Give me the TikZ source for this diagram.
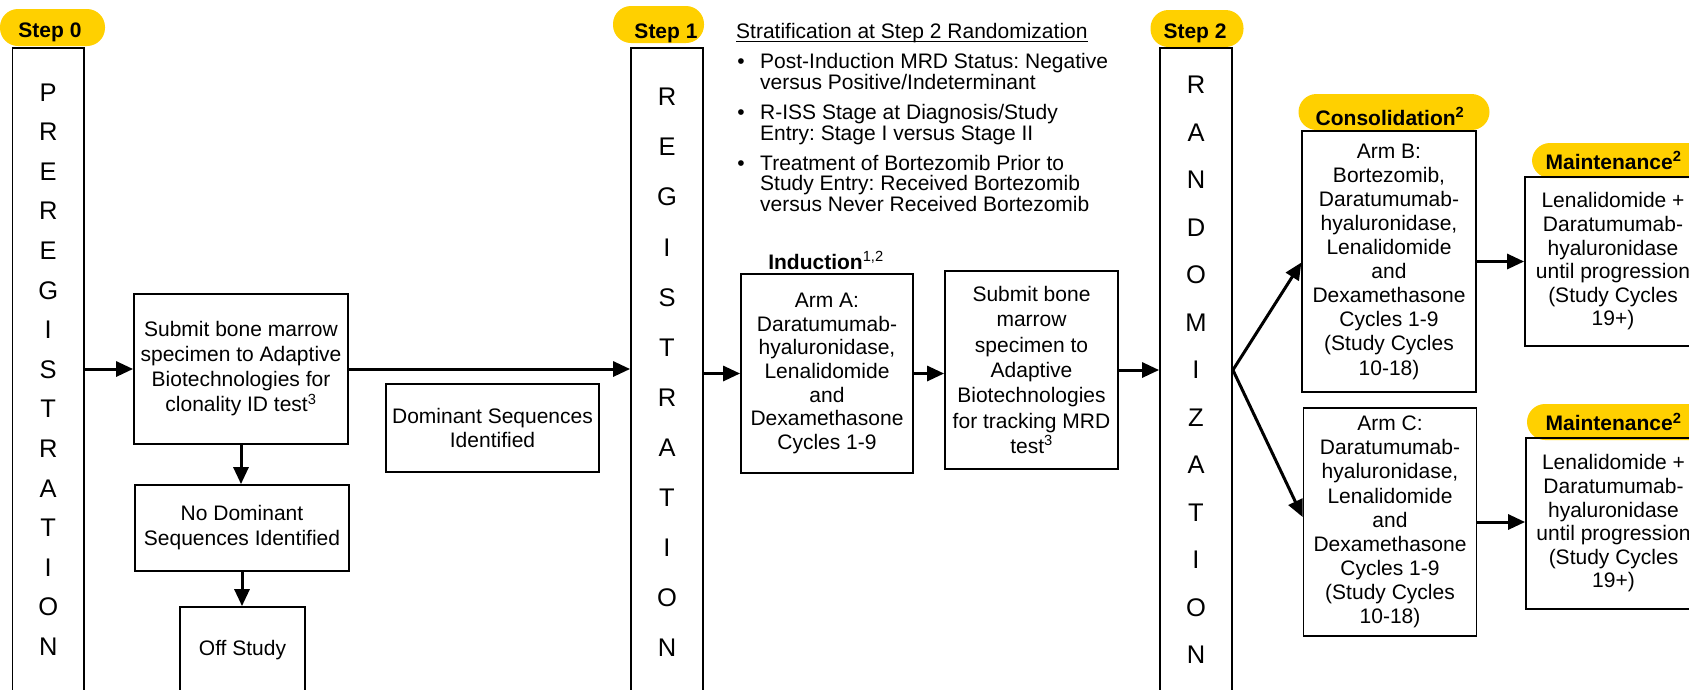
\documentclass[tikz,border=0pt]{standalone}
\usepackage{fontspec}
\setmainfont{Liberation Sans}
\usetikzlibrary{arrows.meta}
\definecolor{pillyellow}{RGB}{255,208,0}
\frenchspacing
\begin{document}
\begin{tikzpicture}[x=1pt,y=-1pt,
  box/.style={draw=black, line width=1.8pt, inner sep=0pt, align=center, font=\frenchspacing\fontsize{21}{24}\selectfont},
  pill/.style={fill=pillyellow, draw=none, rounded corners=18pt, inner sep=0pt},
  pilltext/.style={font=\fontsize{21}{24}\selectfont\bfseries, inner sep=0pt, anchor=base},
  strat/.style={font=\frenchspacing\fontsize{21}{21}\selectfont, inner sep=0pt, anchor=base west},
  bul/.style={font=\fontsize{21}{21}\selectfont, inner sep=0pt, anchor=base},
  arr/.style={line width=3pt, -{Triangle[length=17pt,width=15pt]}}]
\useasboundingbox (0,0) rectangle (1689,689);
\clip (0,0) rectangle (1689,689);

% pills
\node[pill, minimum width=105pt, minimum height=37pt] (pill0) at (52.5,27.5) {};
\node[pill, minimum width=91pt, minimum height=37pt] (pill1) at (658.5,24.5) {};
\node[pill, minimum width=93pt, minimum height=37pt] (pill2) at (1197,28.5) {};
\node[pill, minimum width=191pt, minimum height=36pt] (pillC) at (1394,112) {};
\node[pill, minimum width=198pt, minimum height=35pt] (pillM1) at (1631,160.5) {};
\node[pill, minimum width=203pt, minimum height=36pt] (pillM2) at (1628.5,422) {};

\node[pilltext] (t0) at (50,37.7) {Step 0};
\node[pilltext] (t1) at (666,38.3) {Step 1};
\node[pilltext] (t2) at (1195,38.3) {Step 2};
\node[pilltext] (tC) at (1390,125) {Consolidation\textsuperscript{2}};
\node[pilltext] (tM1) at (1613.5,169.3) {Maintenance\textsuperscript{2}};
\node[pilltext] (tM2) at (1613.5,430.7) {Maintenance\textsuperscript{2}};

% tall boxes
\node[box, minimum width=71.5pt, minimum height=643pt, font=\fontsize{25.5}{39.6}\selectfont] (prereg) at (48.25,369.5)
  {P\\R\\E\\R\\E\\G\\I\\S\\T\\R\\A\\T\\I\\O\\N};
\node[box, minimum width=72pt, minimum height=649pt, font=\fontsize{25.5}{50.1}\selectfont] (reg) at (667,372.5)
  {R\\E\\G\\I\\S\\T\\R\\A\\T\\I\\O\\N};
\node[box, minimum width=72pt, minimum height=644pt, font=\fontsize{25.5}{47.5}\selectfont] (rand) at (1196,370)
  {R\\A\\N\\D\\O\\M\\I\\Z\\A\\T\\I\\O\\N};

% step 0 boxes
\node[box, minimum width=214pt, minimum height=150pt, font=\fontsize{21}{25}\selectfont] (sub1) at (241,369)
  {Submit bone marrow\\specimen to Adaptive\\Biotechnologies for\\clonality ID test\textsuperscript{3}};
\node[box, minimum width=214pt, minimum height=86pt, font=\fontsize{21}{25}\selectfont] (nodom) at (242,528)
  {No Dominant\\Sequences Identified};
\node[box, minimum width=125pt, minimum height=86pt] (offbox) at (242.5,650) {Off Study};
\node[box, minimum width=213pt, minimum height=88pt] (domseq) at (492.5,428)
  {Dominant Sequences\\Identified};

% stratification
\node[strat] (title) at (736,38.5) {Stratification at Step 2 Randomization};
\draw[line width=1.2pt] ([yshift=-2.6pt]title.base west) -- ([yshift=-2.6pt]title.base east);
\node[bul] (b1) at (741,68.3) {\textbullet};
\node[bul] (b2) at (741,119) {\textbullet};
\node[bul] (b3) at (741,170) {\textbullet};
\node[strat] (s1a) at (760,68.3) {Post-Induction MRD Status: Negative};
\node[strat] (s1b) at (760,89.3) {versus Positive/Indeterminant};
\node[strat] (s2a) at (760,119) {R-ISS Stage at Diagnosis/Study};
\node[strat] (s2b) at (760,140) {Entry: Stage I versus Stage II};
\node[strat] (s3a) at (760,170) {Treatment of Bortezomib Prior to};
\node[strat] (s3b) at (760,190.7) {Study Entry: Received Bortezomib};
\node[strat] (s3c) at (760,211.7) {versus Never Received Bortezomib};

% induction
\node[pilltext] (ind) at (826,269.3) {Induction\textsuperscript{\mdseries 1,2}};
\node[box, minimum width=172pt, minimum height=199pt, font=\fontsize{21}{23.7}\selectfont] (armA) at (827,373.5)
  {Arm A:\\Daratumumab-\\hyaluronidase,\\Lenalidomide\\and\\Dexamethasone\\Cycles 1-9};
\node[box, minimum width=173pt, minimum height=198pt, font=\fontsize{21}{25.3}\selectfont] (sub2) at (1031.5,370)
  {Submit bone\\marrow\\specimen to\\Adaptive\\Biotechnologies\\for tracking MRD\\test\textsuperscript{3}};

% consolidation
\node[box, minimum width=173.5pt, minimum height=261pt, font=\fontsize{21}{24.1}\selectfont] (armB) at (1389,261.5)
  {Arm B:\\Bortezomib,\\Daratumumab-\\hyaluronidase,\\Lenalidomide\\and\\Dexamethasone\\Cycles 1-9\\(Study Cycles\\10-18)};
\node[box, minimum width=173pt, minimum height=228pt, font=\fontsize{21}{24.1}\selectfont] (armC) at (1390,522)
  {Arm C:\\Daratumumab-\\hyaluronidase,\\Lenalidomide\\and\\Dexamethasone\\Cycles 1-9\\(Study Cycles\\10-18)};

% maintenance
\node[box, minimum width=176pt, minimum height=169pt, font=\fontsize{21}{23.6}\selectfont] (maint1) at (1613,261.5)
  {Lenalidomide +\\Daratumumab-\\hyaluronidase\\until progression\\(Study Cycles\\19+)};
\node[box, minimum width=175pt, minimum height=171pt, font=\fontsize{21}{23.6}\selectfont] (maint2) at (1613.5,523.5)
  {Lenalidomide +\\Daratumumab-\\hyaluronidase\\until progression\\(Study Cycles\\19+)};

% connectors
\draw[arr] (sub1.west -| prereg.east) -- (sub1.west);
\draw[arr] (sub1.south) -- (sub1.south |- nodom.north);
\draw[arr] (nodom.south) -- (nodom.south |- offbox.north);
\draw[arr] (sub1.east) -- (sub1.east -| reg.west);
\draw[arr] (armA.west -| reg.east) -- (armA.west);
\draw[arr] (armA.east) -- (armA.east -| sub2.west);
\draw[arr] (sub2.east) -- (sub2.east -| rand.west);
\draw[arr] (rand.east) -- ([yshift=-1pt]armB.west);
\draw[arr] (rand.east) -- ([yshift=5pt]armC.west);
\draw[arr] (armB.east) -- (armB.east -| maint1.west);
\draw[arr] (armC.east) -- (armC.east -| maint2.west);
\end{tikzpicture}
\end{document}
